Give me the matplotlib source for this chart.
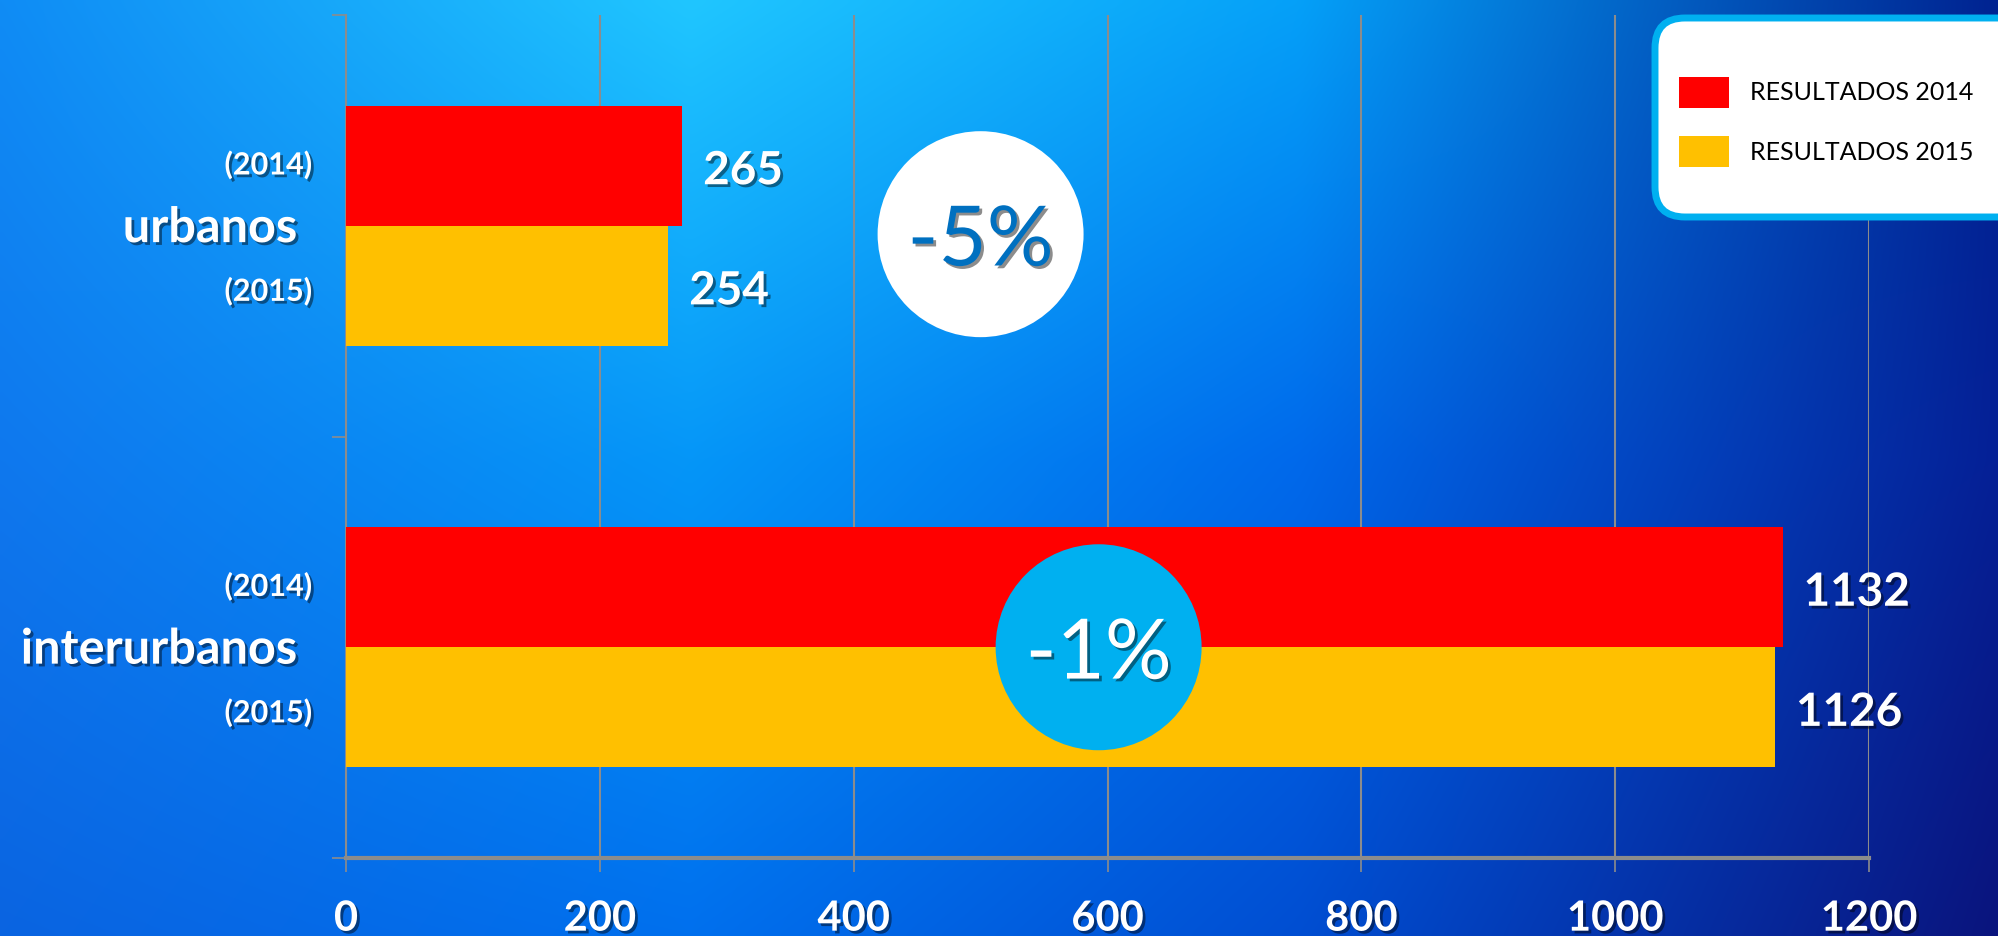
import numpy as np
import matplotlib
matplotlib.use("Agg")
import matplotlib.pyplot as plt
import matplotlib.patheffects as pe
from matplotlib.patches import FancyBboxPatch

# ---------------- data ----------------
categories = ["urbanos", "interurbanos"]
series_names = ["RESULTADOS 2014", "RESULTADOS 2015"]
values_2014 = [265, 1132]
values_2015 = [254, 1126]
year_labels = ["(2014)", "(2015)"]
change_labels = ["-5%", "-1%"]
xticks = [0, 200, 400, 600, 800, 1000, 1200]

W, H, DPI = 1998, 936, 100
fig = plt.figure(figsize=(W / DPI, H / DPI), dpi=DPI)

# ---------------- background gradient ----------------
bg = fig.add_axes([0, 0, 1, 1], zorder=-10)
gx = np.array([0, 690, 1300, 1998])
gy = np.array([0, 460, 936])
C = np.array([
    [[15, 140, 245], [32, 198, 255], [5, 160, 248], [0, 35, 145]],
    [[15, 120, 238], [5, 150, 248], [0, 105, 235], [5, 32, 150]],
    [[10, 100, 225], [0, 112, 238], [0, 78, 210], [10, 20, 125]],
], dtype=float) / 255.0
nx, ny = 400, 190
px = np.linspace(0, W, nx)
py = np.linspace(0, H, ny)
rows = np.zeros((len(gy), nx, 3))
for i in range(len(gy)):
    for c in range(3):
        rows[i, :, c] = np.interp(px, gx, C[i, :, c])
img = np.zeros((ny, nx, 3))
for j in range(nx):
    for c in range(3):
        img[:, j, c] = np.interp(py, gy, rows[:, j, c])
bg.imshow(img, extent=[0, W, H, 0], aspect="auto", interpolation="bicubic")
bg.set_xlim(0, W)
bg.set_ylim(H, 0)
bg.axis("off")

# ---------------- main axes ----------------
ax = fig.add_axes([346 / W, 1 - 858 / H, (1869 - 346) / W, (858 - 15) / H])
ax.set_facecolor("none")

y = np.arange(len(categories))
bh = 0.285
red, yellow = "#ff0000", "#ffc000"
b1 = ax.barh(y - bh / 2, values_2014, height=bh, color=red, label=series_names[0], zorder=3)
b2 = ax.barh(y + bh / 2, values_2015, height=bh, color=yellow, label=series_names[1], zorder=3)

ax.set_xlim(0, 1200)
ax.set_ylim(1.5, -0.5)

shadow = [pe.SimplePatchShadow(offset=(2, -2), shadow_rgbFace="black", alpha=0.45), pe.Normal()]
gray = "#8c8c8c"

# grid and spines
ax.xaxis.grid(True, color=gray, linewidth=1.5, zorder=0)
ax.set_axisbelow(True)
for s in ["top", "right"]:
    ax.spines[s].set_visible(False)
ax.spines["left"].set_color(gray)
ax.spines["left"].set_linewidth(1.5)
ax.spines["bottom"].set_color(gray)
ax.spines["bottom"].set_linewidth(3)

# x ticks
ax.set_xticks(xticks, [str(t) for t in xticks])
ax.tick_params(axis="x", length=10, width=1.2, color=gray, pad=20,
               labelcolor="white", labelsize=30)
for lbl in ax.get_xticklabels():
    lbl.set_fontfamily("Lato")
    lbl.set_fontweight("bold")
    lbl.set_path_effects(shadow)

# y ticks: category labels (major), boundaries (minor)
ax.set_yticks(y - 0.005, categories)
ax.set_yticks([-0.5, 0.5, 1.5], minor=True)
ax.tick_params(axis="y", which="major", length=0, pad=35, labelcolor="white", labelsize=35)
ax.tick_params(axis="y", which="minor", length=10, width=1.2, color=gray)
for lbl in ax.get_yticklabels():
    lbl.set_fontfamily("Lato")
    lbl.set_fontweight("bold")
    lbl.set_path_effects(shadow)

# year labels next to each bar, anchored at the bar centres
year_dy = [0.5, -4]
for bars, yl, dy in zip((b1, b2), year_labels, year_dy):
    for rect in bars:
        ax.annotate(yl, (0, rect.get_y() + rect.get_height() / 2),
                    xytext=(-24.5, dy), textcoords="offset points", ha="right", va="center",
                    color="white", fontsize=22, fontfamily="Lato", fontweight="bold",
                    path_effects=shadow, annotation_clip=False)

# value labels
for bars in (b1, b2):
    for rect in bars:
        v = rect.get_width()
        ax.annotate(f"{v:g}", (v, rect.get_y() + rect.get_height() / 2),
                    xytext=(15, -4), textcoords="offset points", ha="left", va="center",
                    color="white", fontsize=33, fontfamily="Lato", fontweight="bold",
                    path_effects=shadow, zorder=5)

# change circles
circ_x = [500, 593]
circ_y = [0.02, 1.0]
circ_face = ["white", "#00b0f0"]
circ_text = ["#0070c0", "white"]
for cx, cy, fc, tc, lab in zip(circ_x, circ_y, circ_face, circ_text, change_labels):
    ax.scatter([cx], [cy], s=148.3 ** 2, color=fc, edgecolors="none", zorder=6)
    ax.annotate(lab, (cx, cy), xytext=(0, -6), textcoords="offset points",
                ha="center", va="center", color=tc, fontsize=60,
                fontfamily="Lato", zorder=7, path_effects=shadow)

# ---------------- legend (overlay) ----------------
ov = fig.add_axes([0, 0, 1, 1], zorder=20)
ov.set_xlim(0, W)
ov.set_ylim(H, 0)
ov.axis("off")
ov.patch.set_alpha(0)
box = FancyBboxPatch((1685, 48), 400, 139, boxstyle="round,pad=30,rounding_size=30",
                     facecolor="white", edgecolor="#00b0f0", linewidth=5)
ov.add_patch(box)
leg = ov.legend(handles=[b1, b2], loc="upper left", bbox_to_anchor=(1679, 77),
                bbox_transform=ov.transData, frameon=False, borderpad=0,
                borderaxespad=0, handlelength=2.0, handleheight=1.5, handletextpad=0.85,
                labelspacing=1.15, prop={"family": "Lato", "size": 18})
for t in leg.get_texts():
    t.set_color("black")

fig.savefig("out.png", dpi=DPI)
